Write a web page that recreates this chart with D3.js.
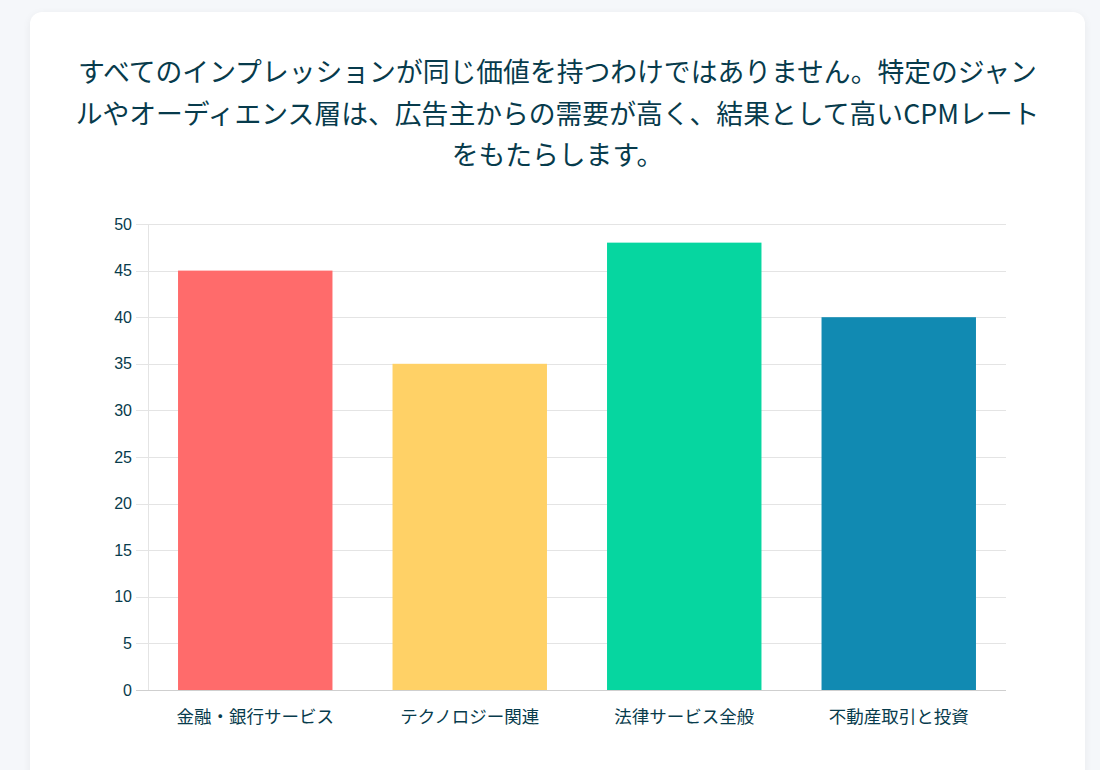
<!DOCTYPE html>
<html lang="ja">
<head>
<meta charset="UTF-8">
<title>CPM by genre</title>
<script src="https://d3js.org/d3.v7.min.js"></script>
<style>
    body {
        margin: 0;
        background: #f5f7fa;
        font-family: "Noto Sans CJK JP", "Noto Sans", sans-serif;
    }
    .card {
        position: absolute;
        left: 30px;
        top: 12px;
        width: 1055px;
        height: 800px;
        background: #fff;
        border-radius: 12px;
        box-shadow: 0 2px 8px rgba(0,0,0,0.06);
    }
    .title {
        position: absolute;
        left: 0;
        top: 38px;
        width: 100%;
        text-align: center;
        font-size: 26.8px;
        line-height: 41.5px;
        color: #073b4c;
        white-space: nowrap;
    }
    #chart {
        position: absolute;
        left: 0;
        top: 0;
    }
    .y-axis text {
        font-family: "Liberation Sans", Arial, sans-serif;
        font-size: 16px;
        fill: #073b4c;
    }
    .x-axis text {
        font-family: "Noto Sans CJK JP", sans-serif;
        font-size: 17.5px;
        fill: #073b4c;
    }
</style>
</head>
<body>
<div class="card">
    <div class="title">すべてのインプレッションが同じ価値を持つわけではありません。特定のジャン<br>ルやオーディエンス層は、広告主からの需要が高く、結果として高いCPMレート<br>をもたらします。</div>
    <div id="chart"></div>
</div>
<script>
// データ
const categories = ["金融・銀行サービス", "テクノロジー関連", "法律サービス全般", "不動産取引と投資"];
const cpmValues = [45, 35, 48, 40];
const barColors = ["#ff6b6b", "#ffd166", "#06d6a0", "#118ab2"];
const yTicks = [0, 5, 10, 15, 20, 25, 30, 35, 40, 45, 50];

const margin = { top: 212, right: 79, bottom: 100, left: 118 };
const width = 1055 - margin.left - margin.right;
const height = 790 - margin.top - margin.bottom;

const svg = d3.select("#chart")
    .append("svg")
    .attr("width", 1055)
    .attr("height", 790)
    .append("g")
    .attr("transform", `translate(${margin.left},${margin.top})`);

const x = d3.scaleBand()
    .domain(categories)
    .range([0, width])
    .paddingInner(0.28)
    .paddingOuter(0.14);

const y = d3.scaleLinear()
    .domain([0, 50])
    .range([466, 0]);

// グリッド線
svg.append("g")
    .selectAll("line")
    .data(yTicks)
    .join("line")
    .attr("x1", -12)
    .attr("x2", width)
    .attr("y1", d => Math.round(y(d)) + 0.5)
    .attr("y2", d => Math.round(y(d)) + 0.5)
    .attr("stroke", d => d === 0 ? "#cfcfcf" : "#e4e4e4")
    .attr("stroke-width", 1);

// 縦軸の線
svg.append("line")
    .attr("x1", 0.5).attr("x2", 0.5)
    .attr("y1", 0).attr("y2", y(0))
    .attr("stroke", "#e4e4e4");

// 棒
svg.selectAll(".bar")
    .data(cpmValues)
    .join("rect")
    .attr("class", "bar")
    .attr("x", (d, i) => x(categories[i]))
    .attr("y", d => y(d))
    .attr("width", x.bandwidth())
    .attr("height", d => y(0) - y(d))
    .attr("fill", (d, i) => barColors[i]);

// Y軸
const yAxis = d3.axisLeft(y).tickValues(yTicks).tickSize(0).tickPadding(16);
svg.append("g")
    .attr("class", "y-axis")
    .call(yAxis)
    .call(g => g.select(".domain").remove());

// X軸
const xAxis = d3.axisBottom(x).tickSize(0).tickPadding(21);
svg.append("g")
    .attr("class", "x-axis")
    .attr("transform", `translate(0,${y(0)})`)
    .call(xAxis)
    .call(g => g.select(".domain").remove());
</script>
</body>
</html>
